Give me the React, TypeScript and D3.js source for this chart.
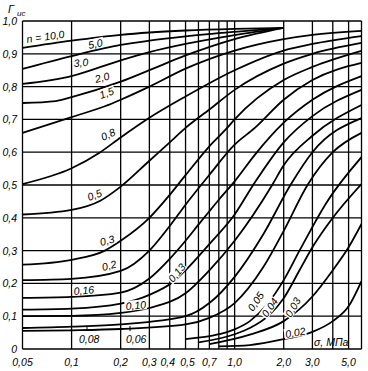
import React from "react";
import * as d3 from "d3";

const xGrid = [0.05, 0.1, 0.2, 0.3, 0.4, 0.5, 0.6, 0.7, 0.8, 0.9, 1, 2, 3, 4, 5, 6];
const xTicks = [0.05, 0.1, 0.2, 0.3, 0.4, 0.5, 0.7, 1.0, 2.0, 3.0, 5.0];
const xTickLabels = ["0,05", "0,1", "0,2", "0,3", "0,4", "0,5", "0,7", "1,0", "2,0", "3,0", "5,0"];
const yTicks = [0, 0.1, 0.2, 0.3, 0.4, 0.5, 0.6, 0.7, 0.8, 0.9, 1.0];
const yTickLabels = ["0", "0,1", "0,2", "0,3", "0,4", "0,5", "0,6", "0,7", "0,8", "0,9", "1,0"];

const n100 = [[0.05, 0.918], [0.1, 0.94], [0.2, 0.958], [0.3, 0.965], [0.5, 0.971], [1.0, 0.976], [2.0, 0.979]];
const n50 = [[0.05, 0.854], [0.1, 0.893], [0.2, 0.927], [0.3, 0.94], [0.5, 0.953], [1.0, 0.967], [2.0, 0.979]];
const n30 = [[0.05, 0.808], [0.1, 0.832], [0.2, 0.88], [0.3, 0.905], [0.5, 0.93], [1.0, 0.957], [2.0, 0.979]];
const n20 = [[0.05, 0.75], [0.08, 0.756], [0.1, 0.768], [0.2, 0.815], [0.3, 0.85], [0.5, 0.895], [1.0, 0.945], [2.0, 0.979]];
const n15 = [[0.05, 0.659], [0.1, 0.707], [0.16, 0.74], [0.2, 0.76], [0.3, 0.8], [0.5, 0.855], [1.0, 0.91], [2.0, 0.945], [3.0, 0.958], [6.0, 0.97]];
const n08 = [[0.05, 0.503], [0.1, 0.551], [0.15, 0.6], [0.2, 0.645], [0.3, 0.705], [0.5, 0.77], [1.0, 0.85], [2.0, 0.91], [3.0, 0.93], [6.0, 0.954]];
const n05 = [[0.05, 0.41], [0.1, 0.424], [0.15, 0.452], [0.2, 0.495], [0.3, 0.574], [0.4, 0.63], [0.5, 0.674], [0.7, 0.73], [1.0, 0.79], [2.0, 0.87], [3.0, 0.9], [6.0, 0.933]];
const n03 = [[0.05, 0.257], [0.1, 0.272], [0.16, 0.3], [0.2, 0.33], [0.3, 0.4], [0.4, 0.47], [0.5, 0.53], [0.7, 0.618], [0.9, 0.674], [1.0, 0.7], [2.0, 0.82], [3.0, 0.86], [6.0, 0.909]];
const n02 = [[0.05, 0.21], [0.1, 0.214], [0.2, 0.238], [0.3, 0.3], [0.4, 0.375], [0.5, 0.44], [0.7, 0.531], [1.0, 0.623], [1.33, 0.674], [2.0, 0.76], [3.0, 0.82], [6.0, 0.872]];
const n016 = [[0.05, 0.156], [0.1, 0.159], [0.2, 0.172], [0.3, 0.215], [0.4, 0.275], [0.5, 0.33], [0.6, 0.379], [0.7, 0.42], [0.8, 0.455], [1.0, 0.511], [1.33, 0.592], [2.0, 0.69], [3.0, 0.76], [6.0, 0.832]];
const n013 = [[0.05, 0.12], [0.1, 0.123], [0.2, 0.138], [0.3, 0.165], [0.42, 0.205], [0.5, 0.24], [0.7, 0.32], [1.0, 0.41], [1.3, 0.5], [2.0, 0.63], [3.0, 0.71], [6.0, 0.79]];
const n010 = [[0.05, 0.1], [0.1, 0.101], [0.2, 0.11], [0.3, 0.125], [0.5, 0.17], [0.7, 0.24], [1.0, 0.33], [1.7, 0.5], [2.0, 0.56], [3.0, 0.65], [6.0, 0.744]];
const n008 = [[0.05, 0.064], [0.1, 0.068], [0.2, 0.075], [0.5, 0.1], [0.7, 0.14], [1.0, 0.22], [1.5, 0.35], [2.2, 0.5], [3.0, 0.6], [6.0, 0.704]];
const n006 = [[0.05, 0.055], [0.1, 0.057], [0.2, 0.061], [0.5, 0.075], [0.7, 0.095], [1.0, 0.14], [1.5, 0.25], [2.0, 0.36], [2.8, 0.5], [4.0, 0.6], [6.0, 0.659]];
const n005 = [[0.5, 0.03], [0.8, 0.045], [1.0, 0.06], [1.24, 0.085], [1.57, 0.134], [2.0, 0.21], [2.5, 0.3], [3.7, 0.45], [6.0, 0.585]];
const n004 = [[0.6, 0.02], [1.0, 0.045], [1.24, 0.064], [1.64, 0.105], [2.0, 0.155], [2.5, 0.24], [3.0, 0.31], [4.0, 0.4], [6.0, 0.503]];
const n003 = [[0.7, 0.015], [1.24, 0.044], [2.0, 0.085], [3.0, 0.16], [4.0, 0.24], [5.0, 0.31], [6.0, 0.381]];
const n002 = [[0.8, 0.008], [1.24, 0.012], [2.0, 0.03], [3.0, 0.052], [4.0, 0.085], [5.0, 0.13], [6.0, 0.207]];

const curves = [n100, n50, n30, n20, n15, n08, n05, n03, n02, n016, n013, n010, n008, n006, n005, n004, n003, n002];

const curveLabels = [
  { t: "n = 10,0", x: 27, y: 43, r: -8 },
  { t: "5,0", x: 89, y: 49, r: -12 },
  { t: "3,0", x: 74, y: 67, r: -5 },
  { t: "2,0", x: 96, y: 83, r: -15 },
  { t: "1,5", x: 101, y: 99, r: -20 },
  { t: "0,8", x: 103, y: 141, r: -25 },
  { t: "0,5", x: 89, y: 201, r: -20 },
  { t: "0,3", x: 101, y: 246, r: -15 },
  { t: "0,2", x: 103, y: 271, r: -15 },
  { t: "0,16", x: 74, y: 295, r: -5 },
  { t: "0,10", x: 126, y: 310, r: -5 },
  { t: "0,08", x: 79, y: 343, r: 0 },
  { t: "0,06", x: 126, y: 343, r: 0 },
  { t: "0,13", x: 173, y: 283, r: -50 },
  { t: "0,05", x: 253, y: 312, r: -55 },
  { t: "0,04", x: 267, y: 318, r: -55 },
  { t: "0,03", x: 291, y: 318, r: -60 },
  { t: "0,02", x: 286, y: 338, r: -10 },
];

const xLabelNudge = [0, 0, 0, 0, -2, 2, 0, 0, 0, 0, 0];

const W = 368;
const H = 371;
const L = 22.5, R = 361.5, T = 21, B = 349;

export default function App() {
  const x = d3.scaleLog().domain([0.05, 6]).range([L, R]);
  const y = d3.scaleLinear().domain([0, 1]).range([B, T]);
  const line = d3
    .line<number[]>()
    .x((d) => x(d[0]))
    .y((d) => y(d[1]))
    .curve(d3.curveMonotoneX);
  const font = "'Liberation Sans', Arial, sans-serif";
  return (
    <svg width={W} height={H} style={{ position: "absolute", left: 0, top: 0, background: "#fff" }} fontFamily={font} fontStyle="italic">
      <defs>
        <clipPath id="plot">
          <rect x={L} y={T} width={R - L} height={B - T} />
        </clipPath>
      </defs>
      <rect width={W} height={H} fill="#fff" />
      {xGrid.map((v, i) => (
        <line key={"xg" + i} x1={x(v)} x2={x(v)} y1={T} y2={B} stroke="#000" strokeWidth={1.3} />
      ))}
      {yTicks.map((v, i) => (
        <line key={"yg" + i} x1={L} x2={R} y1={y(v)} y2={y(v)} stroke="#000" strokeWidth={1.3} />
      ))}
      <g clipPath="url(#plot)">
        {curves.map((c, i) => (
          <path key={"c" + i} d={line(c as number[][]) || ""} fill="none" stroke="#000" strokeWidth={1.8} />
        ))}
      </g>
      {curveLabels.map((l, i) => (
        <g key={"l" + i} transform={`translate(${l.x},${l.y}) rotate(${l.r})`}>
          <rect x={-1} y={-9} width={l.t.length * 5 + 2} height={10} fill="#fff" />
          <text fontSize={10.5} fill="#000">{l.t}</text>
        </g>
      ))}
      <line x1={87} x2={87} y1={326} y2={331} stroke="#000" strokeWidth={1} />
      <line x1={130} x2={130} y1={326} y2={331} stroke="#000" strokeWidth={1} />
      {xTicks.map((v, i) => (
        <text key={"xt" + i} x={x(v) + xLabelNudge[i]} y={366} fontSize={10.5} textAnchor="middle">{xTickLabels[i]}</text>
      ))}
      {yTicks.map((v, i) => (
        <text key={"yt" + i} x={17} y={y(v) + 4} fontSize={10.5} textAnchor="end">{yTickLabels[i]}</text>
      ))}
      <text x={8} y={13} fontSize={11}>Г</text>
      <text x={17} y={16} fontSize={8}>ис</text>
      <text x={314} y={346} fontSize={10.5}>σ, МПа</text>
    </svg>
  );
}
